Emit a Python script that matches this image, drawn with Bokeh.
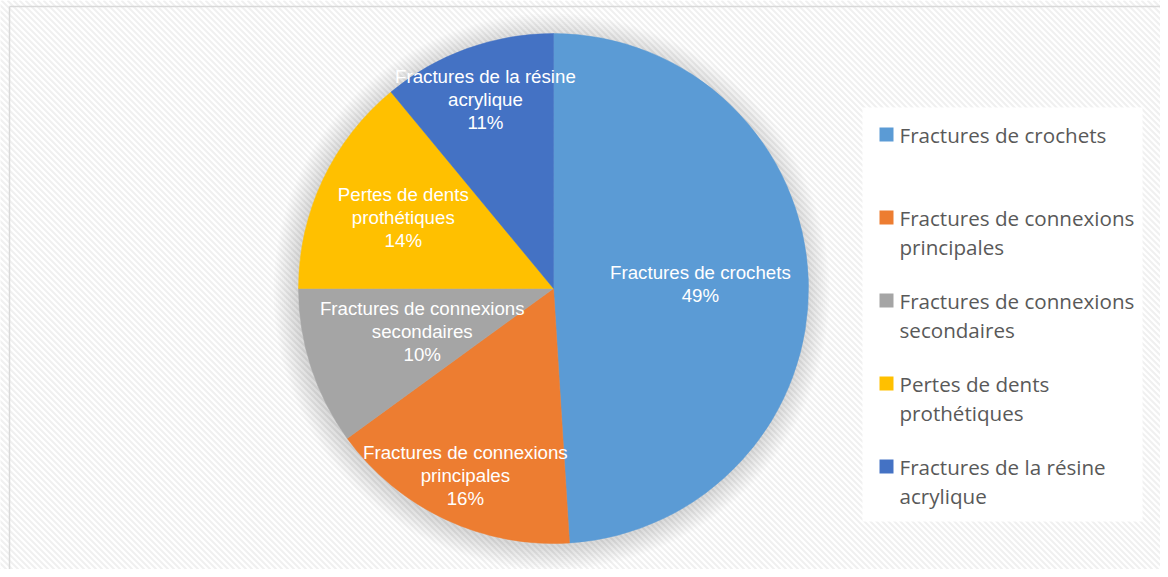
import numpy as np
from bokeh.plotting import figure
from bokeh.models import Range1d, BoxAnnotation, ColumnDataSource
from bokeh.core.properties import value
from bokeh.embed import file_html
from bokeh.resources import INLINE

# ---------------- data ----------------
categories = [
    "Fractures de crochets",
    "Fractures de connexions principales",
    "Fractures de connexions secondaires",
    "Pertes de dents prothétiques",
    "Fractures de la résine acrylique",
]
wrapped = [
    "Fractures de crochets",
    "Fractures de connexions\nprincipales",
    "Fractures de connexions\nsecondaires",
    "Pertes de dents\nprothétiques",
    "Fractures de la résine\nacrylique",
]
values = [49, 16, 10, 14, 11]
colors = ["#5B9BD5", "#ED7D31", "#A5A5A5", "#FFC000", "#4472C4"]

# ---------------- layout ----------------
W, H = 1160, 569
def py(y):  # pixel row (from top) -> data y
    return H - y

p = figure(width=W, height=H, x_range=Range1d(0, W), y_range=Range1d(0, H),
           output_backend="svg", toolbar_location=None, min_border=0,
           x_axis_location=None, y_axis_location=None)
p.background_fill_color = "white"
p.border_fill_color = "white"
p.outline_line_color = None
p.grid.grid_line_color = None
p.xgrid.visible = False
p.ygrid.visible = False

# diagonal hatch background ("\" stripes)
period = 6.0
cs = np.arange(-H, W + period, period)
p.segment(x0=cs, y0=[py(0)] * len(cs), x1=cs + H, y1=[py(H)] * len(cs),
          line_color="#f0f0f0", line_width=2.0)

# frame border (top and left visible)
p.segment(x0=[9, 9], y0=[py(6), py(6)], x1=[9, W + 10], y1=[py(H + 10), py(6)],
          line_color="#d9d9d9", line_width=1.5)

cx, cy, R = 553, py(288), 255

# soft shadow
sh_r = [R + k for k in np.arange(1, 24, 2.0)]
p.circle(x=[cx - 2] * len(sh_r), y=[cy - 3] * len(sh_r), radius=sh_r,
         fill_color="black", fill_alpha=0.011, line_color=None)

# pie
vals = np.array(values, dtype=float)
frac = vals / vals.sum()
cum = np.concatenate([[0], np.cumsum(frac)])
start = np.pi / 2 - cum[:-1] * 2 * np.pi
end = np.pi / 2 - cum[1:] * 2 * np.pi
mid = (start + end) / 2
src = ColumnDataSource(dict(start=start, end=end, color=colors))
p.wedge(x=cx, y=cy, radius=R, start_angle="start", end_angle="end",
        direction="clock", fill_color="color", line_color="color", line_width=0.5, source=src)

# pie labels
label_r = [147, 207, 138, 166, 201]
lx, ly, lt = [], [], []
for i, w in enumerate(wrapped):
    lines = w.split("\n") + [f"{values[i]}%"]
    bx = cx + label_r[i] * np.cos(mid[i])
    by = cy + label_r[i] * np.sin(mid[i])
    n = len(lines)
    for k, t in enumerate(lines):
        lx.append(bx)
        ly.append(by + ((n - 1) / 2 - k) * 23)
        lt.append(t)
p.text(x=lx, y=ly, text=lt, text_align="center", text_baseline="middle",
       text_color="white", text_font=value("Liberation Sans"), text_font_size="18.7px")

# legend
leg_box = BoxAnnotation(left=862, right=1142, top=py(107), bottom=py(521),
                        fill_color="white", fill_alpha=1.0, line_color=None, level="glyph")
p.add_layout(leg_box)
sq_y = [py(134 + 83 * i) for i in range(len(categories))]
p.rect(x=[886] * len(categories), y=sq_y, width=14, height=14,
       fill_color=colors, line_color=None, level="overlay")
tx, ty, tt = [], [], []
for i, w in enumerate(wrapped):
    for k, t in enumerate(w.split("\n")):
        tx.append(899)
        ty.append(sq_y[i] - 29 * k)
        tt.append(t)
p.text(x=tx, y=ty, text=tt, text_align="left", text_baseline="middle",
       text_color="#595959", text_font=value("Open Sans"), text_font_size="20.6px",
       level="overlay")

open("out.html", "w").write(file_html(p, INLINE))
